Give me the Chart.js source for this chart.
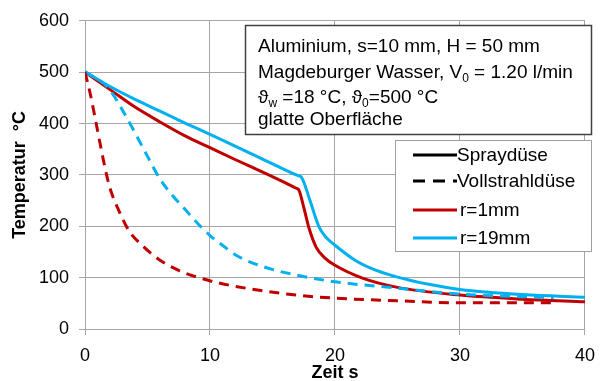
<!DOCTYPE html>
<html>
<head>
<meta charset="utf-8">
<script src="https://cdn.jsdelivr.net/npm/chart.js@4"></script>
<style>
  body { margin: 0; background: #fff; }
  canvas { display: block; }
</style>
</head>
<body>
<canvas id="tempChart" width="605" height="381"></canvas>
<script>
// Zeit (s) / Temperatur (°C) pro Kurve
const sprayR1Time = [0, 2, 4, 6, 8, 10, 12, 14, 16, 16.9, 17.1, 17.5, 17.9, 18.5, 19.2, 20, 22.2, 25, 30, 35, 40];
const sprayR1Temp = [500, 466, 432, 403, 376, 353, 330, 308, 285, 274, 271, 237, 198, 159, 138, 124, 99, 81, 66, 58, 53];

const sprayR19Time = [0, 2, 4, 6, 8, 10, 12, 14, 16, 17.1, 17.3, 18.0, 18.7, 19.3, 20, 21.6, 23.2, 25, 27.5, 30, 35, 40];
const sprayR19Temp = [501, 472, 447, 424, 401, 379, 356, 333, 310, 298, 296, 250, 200, 178, 163, 134, 115, 101, 87, 77, 67, 62];

const vollR1Time = [0, 0.4, 0.8, 1.2, 1.6, 2.0, 2.7, 3.5, 4.7, 6.0, 7.4, 9.1, 10.8, 13, 16.9, 20, 25, 30, 37.5];
const vollR1Temp = [500, 460, 412, 362, 314, 274, 231, 192, 160, 134, 115, 100, 89, 79, 66, 60, 55, 51, 51];

const vollR19Time = [0, 1.5, 2.2, 3, 4, 5, 6, 7, 8, 9, 10, 11, 12.2, 14.3, 16.9, 20, 24.8, 30, 37.5];
const vollR19Temp = [500, 478, 458, 426, 382, 336, 292, 260, 233, 206, 182, 163, 142, 121, 105, 92, 80, 68, 61];

const xTicks = [0, 10, 20, 30, 40];
const yTicks = [0, 100, 200, 300, 400, 500, 600];

const legendLabels = ["Spraydüse", "Vollstrahldüse", "r=1mm", "r=19mm"];
const infoLines = [
    [{ t: "Aluminium, s=10 mm, H = 50 mm" }],
    [{ t: "Magdeburger Wasser, V" }, { t: "0", sub: true }, { t: " = 1.20 l/min" }],
    [{ t: "\u03D1" }, { t: "w", sub: true }, { t: " =18 °C, \u03D1" }, { t: "0", sub: true }, { t: "=500 °C" }],
    [{ t: "glatte Oberfläche" }]
];

const RED = "#C00000";
const CYAN = "#00B0F0";
const FONT = "'Liberation Sans', Arial, sans-serif";

function toPoints(xs, ys) {
    return xs.map((x, i) => ({ x: x, y: ys[i] }));
}

const boxesPlugin = {
    id: "boxes",
    afterDraw(chart) {
        const ctx = chart.ctx;
        ctx.save();

        // Info box
        ctx.fillStyle = "#fff";
        ctx.fillRect(245, 25, 347, 110);
        ctx.strokeStyle = "#404040";
        ctx.lineWidth = 1.5;
        ctx.strokeRect(245.5, 25.5, 346, 109);
        ctx.fillStyle = "#000";
        ctx.textBaseline = "alphabetic";
        const baselines = [52, 78, 103, 125];
        infoLines.forEach((parts, i) => {
            let x = 258;
            parts.forEach((p) => {
                if (p.sub) {
                    ctx.font = "12px " + FONT;
                    ctx.fillText(p.t, x, baselines[i] + 4);
                } else {
                    ctx.font = "19px " + FONT;
                    ctx.fillText(p.t, x, baselines[i]);
                }
                x += ctx.measureText(p.t).width;
            });
        });

        // Legend box
        ctx.fillStyle = "#fff";
        ctx.fillRect(395, 140, 196, 111);
        ctx.strokeStyle = "#a0a0a0";
        ctx.lineWidth = 1;
        ctx.strokeRect(395.5, 140.5, 196, 111);
        const rows = [155, 181, 210, 238];
        const styles = [
            { c: "#000", dash: [] },
            { c: "#000", dash: [12, 8] },
            { c: RED, dash: [] },
            { c: CYAN, dash: [] }
        ];
        rows.forEach((y, i) => {
            ctx.beginPath();
            ctx.strokeStyle = styles[i].c;
            ctx.lineWidth = 3;
            ctx.setLineDash(styles[i].dash);
            ctx.moveTo(413, y);
            ctx.lineTo(457, y);
            ctx.stroke();
            ctx.setLineDash([]);
            ctx.fillStyle = "#000";
            ctx.font = "19px " + FONT;
            ctx.textBaseline = "middle";
            ctx.fillText(legendLabels[i], i < 2 ? 457 : 460, y + 1);
        });
        ctx.restore();
    }
};

new Chart("tempChart", {
    type: "line",
    data: {
        datasets: [
            {
                label: "Vollstrahldüse r=1mm",
                data: toPoints(vollR1Time, vollR1Temp),
                borderColor: RED,
                borderDash: [10, 7],
                borderWidth: 3,
                pointRadius: 0,
                cubicInterpolationMode: "monotone"
            },
            {
                label: "Vollstrahldüse r=19mm",
                data: toPoints(vollR19Time, vollR19Temp),
                borderColor: CYAN,
                borderDash: [10, 7],
                borderWidth: 3,
                pointRadius: 0,
                cubicInterpolationMode: "monotone"
            },
            {
                label: "Spraydüse r=19mm",
                data: toPoints(sprayR19Time, sprayR19Temp),
                borderColor: CYAN,
                borderWidth: 3,
                pointRadius: 0,
                cubicInterpolationMode: "monotone"
            },
            {
                label: "Spraydüse r=1mm",
                data: toPoints(sprayR1Time, sprayR1Temp),
                borderColor: RED,
                borderWidth: 3,
                pointRadius: 0,
                cubicInterpolationMode: "monotone"
            }
        ]
    },
    options: {
        responsive: false,
        animation: false,
        devicePixelRatio: 1,
        layout: { padding: { top: 20, right: 12, left: 0, bottom: 0 } },
        plugins: {
            legend: { display: false },
            tooltip: { enabled: false }
        },
        scales: {
            x: {
                type: "linear",
                min: 0,
                max: 40,
                afterBuildTicks: (s) => { s.ticks = xTicks.map(v => ({ value: v })); },
                afterFit: (s) => { s.height = 52; },
                ticks: { color: "#000", font: { family: FONT, size: 18 }, padding: 10, maxRotation: 0 },
                grid: { color: "#a6a6a6", tickLength: 6, lineWidth: 1 },
                border: { color: "#a6a6a6" },
                title: {
                    display: true,
                    text: "Zeit s",
                    color: "#000",
                    font: { family: FONT, size: 18, weight: "bold" },
                    padding: { top: 0, bottom: -3 }
                }
            },
            y: {
                min: 0,
                max: 600,
                afterBuildTicks: (s) => { s.ticks = yTicks.map(v => ({ value: v })); },
                afterFit: (s) => { s.width = 85; },
                ticks: { color: "#000", font: { family: FONT, size: 18 }, padding: 10 },
                grid: { color: "#a6a6a6", tickLength: 6, lineWidth: 1 },
                border: { color: "#a6a6a6" },
                title: {
                    display: true,
                    text: "Temperatur  °C",
                    color: "#000",
                    font: { family: FONT, size: 18, weight: "bold" },
                    padding: { top: 9, bottom: 0 }
                }
            }
        }
    },
    plugins: [boxesPlugin]
});
</script>
</body>
</html>
